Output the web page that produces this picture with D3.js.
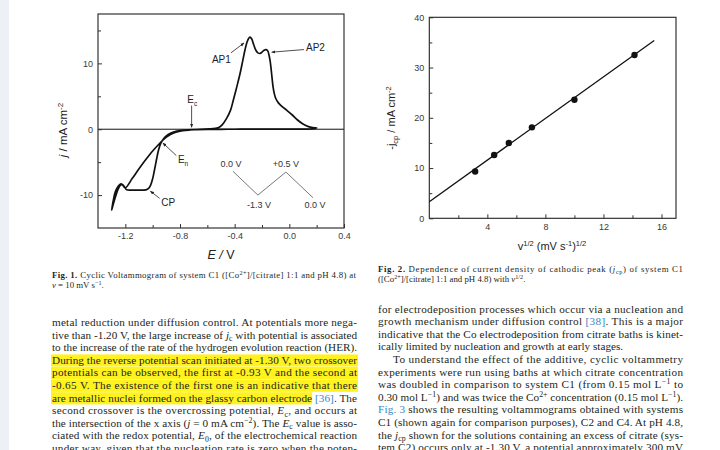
<!DOCTYPE html>
<html>
<head>
<meta charset="utf-8">
<script src="https://cdn.jsdelivr.net/npm/d3@7"></script>
<style>
  body { margin: 0; background: #fff; }
  svg { display: block; }
</style>
</head>
<body>
<svg id="page" width="720" height="450"></svg>
<script>
// Fig. 1 : cyclic voltammogram, in scan order (E / V , j / mA cm-2)
var cvE = [0.00, -0.10, -0.20, -0.30, -0.40, -0.50, -0.60, -0.68, -0.74, -0.79, -0.83, -0.87, -0.90, -0.92, -0.94,
  -0.955, -0.97, -0.985, -1.00, -1.015, -1.03, -1.05, -1.10, -1.15, -1.19, -1.205, -1.22, -1.235, -1.25, -1.265,
  -1.28, -1.29, -1.30,
  -1.295, -1.285, -1.275, -1.26, -1.245, -1.23, -1.215, -1.20, -1.15, -1.10, -1.05, -1.00, -0.96, -0.93, -0.90,
  -0.87, -0.83, -0.78, -0.72, -0.65, -0.58, -0.54, -0.51, -0.49, -0.46, -0.43, -0.41, -0.385, -0.36, -0.34,
  -0.325, -0.31, -0.30, -0.288, -0.275, -0.26, -0.245, -0.23, -0.215, -0.20, -0.185, -0.17, -0.158, -0.148,
  -0.14, -0.13, -0.12, -0.11, -0.10, -0.08, -0.05, -0.02, 0.02, 0.06, 0.10, 0.14, 0.17, 0.20,
  0.16, 0.10, 0.05, 0.00];
var cvJ = [0.02, 0.02, 0.02, 0.02, 0.0, -0.01, -0.03, -0.06, -0.1, -0.18, -0.32, -0.6, -1.0, -1.45, -2.1,
  -3.0, -4.4, -6.0, -7.5, -8.5, -9.0, -9.2, -9.25, -9.25, -9.2, -8.8, -8.4, -8.5, -9.0, -9.8,
  -10.8, -11.5, -12.3,
  -11.6, -10.5, -9.6, -8.9, -8.5, -8.3, -8.6, -8.9, -7.5, -6.0, -4.6, -3.3, -2.4, -1.75, -1.2,
  -0.8, -0.45, -0.22, -0.1, 0.0, 0.05, 0.15, 0.35, 0.7, 1.6, 2.9, 4.4, 6.4, 8.5, 10.5,
  12.0, 13.2, 13.7, 14.0, 13.7, 12.8, 12.0, 11.6, 11.5, 11.7, 12.0, 12.1, 11.9, 11.2,
  10.3, 8.5, 6.6, 5.4, 4.7, 4.0, 3.4, 2.9, 2.2, 1.4, 0.8, 0.4, 0.25, 0.2,
  0.05, 0.03, 0.02, 0.02];

var cvXTicks = [-1.2, -0.8, -0.4, 0.0, 0.4];
var cvXMinor = [-1.0, -0.6, -0.2, 0.2];
var cvYTicks = [-10, 0, 10];
var cvYMinor = [-5, 5, 15];

// labels with arrows, in data units of Fig. 1
var cvNotes = [
  {text: "AP1", sub: "", x: -0.497, y: 10.1, anchor: "middle", from: [-0.427, 11.6], to: [-0.332, 13.1]},
  {text: "AP2", sub: "", x: 0.122, y: 11.9, anchor: "start", from: [0.107, 12.1], to: [-0.129, 11.7]},
  {text: "E", sub: "c", x: -0.747, y: 4.0, anchor: "start", from: [-0.715, 3.6], to: [-0.715, 0.3]},
  {text: "E", sub: "n", x: -0.815, y: -5.2, anchor: "start", from: [-0.827, -4.0], to: [-0.925, -2.1]},
  {text: "CP", sub: "", x: -0.937, y: -11.6, anchor: "start", from: [-0.949, -10.5], to: [-1.017, -9.4]}
];

// potential program inset (vertices, in Fig. 1 data units) and its labels
var insetE = [-0.412, -0.230, -0.025, 0.173];
var insetJ = [-6.4, -10.0, -6.5, -10.4];
var insetLabels = ["0.0 V", "-1.3 V", "+0.5 V", "0.0 V"];
var insetLabelE = [-0.427, -0.222, -0.025, 0.187];
var insetLabelJ = [-5.8, -12.0, -5.8, -12.0];

// Fig. 2 : cathodic peak current vs square root of scan rate
var sqrtRate = [3.16, 4.47, 5.48, 7.07, 10.0, 14.14];
var jcp = [9.3, 12.6, 15.0, 18.1, 23.6, 32.5];
var fitX = [0, 15.5];
var fitY = [3.3, 35.4];
var fig2XTicks = [4, 8, 12, 16];
var fig2XMinor = [2, 6, 10, 14];
var fig2YTicks = [0, 10, 20, 30, 40];
var fig2YMinor = [5, 15, 25, 35];

// page text (markup: ^{} sup, _{} sub, *..* italic, #..# link, ~..~ bold)
var cap1 = ["~Fig. 1.~ Cyclic Voltammogram of system C1 ([Co^{2+}]/[citrate] 1:1 and pH 4.8) at",
  "*ν* = 10 mV s^{−1}."];
var cap2 = ["~Fig. 2.~ Dependence of current density of cathodic peak (*j*_{cp}) of system C1",
  "([Co^{2+}]/[citrate] 1:1 and pH 4.8) with *ν*^{1/2}."];
var leftLines = [
  "metal reduction under diffusion control. At potentials more nega-",
  "tive than -1.20 V, the large increase of *j*_{c} with potential is associated",
  "to the increase of the rate of the hydrogen evolution reaction (HER).",
  "During the reverse potential scan initiated at -1.30 V, two crossover",
  "potentials can be observed, the first at -0.93 V and the second at",
  "-0.65 V. The existence of the first one is an indicative that there",
  "are metallic nuclei formed on the glassy carbon electrode #[36]#. The",
  "second crossover is the overcrossing potential, *E*_{c}, and occurs at",
  "the intersection of the x axis (*j* = 0 mA cm^{−2}). The *E*_{c} value is asso-",
  "ciated with the redox potential, *E*_{0}, of the electrochemical reaction",
  "under way, given that the nucleation rate is zero when the poten-"
];
var highlighted = [3, 4, 5, 6];
var rightLines = [
  "for electrodeposition processes which occur via a nucleation and",
  "growth mechanism under diffusion control #[38]#. This is a major",
  "indicative that the Co electrodeposition from citrate baths is kinet-",
  "ically limited by nucleation and growth at early stages.",
  "To understand the effect of the additive, cyclic voltammetry",
  "experiments were run using baths at which citrate concentration",
  "was doubled in comparison to system C1 (from 0.15 mol L^{−1} to",
  "0.30 mol L^{−1}) and was twice the Co^{2+} concentration (0.15 mol L^{−1}).",
  "#Fig. 3# shows the resulting voltammograms obtained with systems",
  "C1 (shown again for comparison purposes), C2 and C4. At pH 4.8,",
  "the *j*_{cp} shown for the solutions containing an excess of citrate (sys-",
  "tem C2) occurs only at -1.30 V, a potential approximately 300 mV"
];
var rightIndent = [4];
var rightRagged = [3];

var svg = d3.select("#page");
var chartFont = "'Liberation Sans', Arial, sans-serif";
var textFont = "'Liberation Serif', 'Times New Roman', serif";

svg.append("rect").attr("x", 0).attr("y", 0).attr("width", 9).attr("height", 450).attr("fill", "#edf1f5");

// writes marked-up text into a <text> element
function richText(txt, str, fs) {
  var re = /(\^\{[^}]*\}|_\{[^}]*\}|\*[^*]*\*|#[^#]*#|~[^~]*~)/g;
  var shift = 0;
  str.split(re).forEach(function(part) {
    if (!part) return;
    var t = txt.append("tspan");
    var dy = 0, content = part;
    if (part.slice(0, 2) == "^{" || part.slice(0, 2) == "_{") {
      var up = part[0] == "^";
      content = part.slice(2, -1);
      var target = up ? -0.36 * fs : 0.22 * fs;
      dy = target - shift;
      shift = target;
      t.attr("font-size", fs * 0.7);
      if (part[0] == "_" && /j|E/.test(str)) t.attr("font-style", null);
    } else {
      dy = -shift;
      shift = 0;
      if (part[0] == "*" && part.length > 1) { content = part.slice(1, -1); t.attr("font-style", "italic"); }
      else if (part[0] == "#" && part.length > 1) { content = part.slice(1, -1); t.attr("fill", "#3a86c4"); }
      else if (part[0] == "~" && part.length > 1) { content = part.slice(1, -1); t.attr("font-weight", "bold"); }
    }
    if (dy) t.attr("dy", dy);
    t.text(content);
  });
  return txt;
}

function plain(str) {
  return str.replace(/[\^_]\{([^}]*)\}/g, "$1").replace(/[*#~]/g, "");
}

function writeLines(lines, x0, width, base, step, fs, opts) {
  opts = opts || {};
  var g = svg.append("g").attr("font-family", textFont).attr("font-size", fs).attr("fill", "#231f20");
  var nodes = [];
  lines.forEach(function(line, i) {
    var indent = (opts.indent || []).indexOf(i) >= 0 ? 15 : 0;
    var t = g.append("text").attr("x", x0 + indent).attr("y", base + i * step);
    richText(t, line, fs);
    var ragged = (opts.ragged || []).indexOf(i) >= 0;
    if (!ragged) t.attr("textLength", width - indent).attr("lengthAdjust", "spacing");
    nodes.push(t);
  });
  return {g: g, nodes: nodes};
}

// ---------------- Fig. 1 ----------------
var x1 = d3.scaleLinear().domain([-1.4, 0.4]).range([98, 344]);
var y1 = d3.scaleLinear().domain([-15, 17.5]).range([228, 14]);
var fig1 = svg.append("g").attr("font-family", chartFont);

fig1.append("line")
  .attr("x1", x1(-1.4)).attr("x2", x1(0.4))
  .attr("y1", y1(0)).attr("y2", y1(0))
  .attr("stroke", "#111").attr("stroke-width", 1);

var cvPts = cvE.map(function(e, i) { return [e, cvJ[i]]; });
fig1.append("path")
  .datum(cvPts)
  .attr("fill", "none")
  .attr("stroke", "#111")
  .attr("stroke-width", 1.7)
  .attr("stroke-linejoin", "round")
  .attr("d", d3.line().x(function(d) { return x1(d[0]); }).y(function(d) { return y1(d[1]); })
    .curve(d3.curveCatmullRom.alpha(0.5)));

function frameAxes(g, xs, ys, xt, xm, yt, ym, xfmt, yfmt) {
  var r = xs.range(), h = ys.range();
  g.append("rect").attr("x", r[0]).attr("y", h[1]).attr("width", r[1] - r[0]).attr("height", h[0] - h[1])
    .attr("fill", "none").attr("stroke", "#222").attr("stroke-width", 1.1);
  var xa = g.append("g").attr("transform", "translate(0," + h[0] + ")")
    .call(d3.axisBottom(xs).tickValues(xt).tickSizeInner(-4).tickSizeOuter(0).tickPadding(5).tickFormat(xfmt));
  g.append("g").attr("transform", "translate(0," + h[0] + ")")
    .call(d3.axisBottom(xs).tickValues(xm).tickSizeInner(-3).tickSizeOuter(0).tickFormat(""));
  var ya = g.append("g").attr("transform", "translate(" + r[0] + ",0)")
    .call(d3.axisLeft(ys).tickValues(yt).tickSizeInner(-4).tickSizeOuter(0).tickPadding(5).tickFormat(yfmt));
  g.append("g").attr("transform", "translate(" + r[0] + ",0)")
    .call(d3.axisLeft(ys).tickValues(ym).tickSizeInner(-3).tickSizeOuter(0).tickFormat(""));
  g.selectAll(".domain").remove();
  g.selectAll(".tick line").attr("stroke", "#333");
  g.selectAll(".tick text").attr("fill", "#3a3a3a").attr("font-size", 9).attr("font-family", chartFont);
}

frameAxes(fig1, x1, y1, cvXTicks, cvXMinor, cvYTicks, cvYMinor,
  function(d) { return d.toFixed(1); }, function(d) { return d; });

// arrows
var defs = svg.append("defs");
defs.append("marker").attr("id", "head").attr("viewBox", "0 0 10 10")
  .attr("refX", 9).attr("refY", 5).attr("markerWidth", 5).attr("markerHeight", 5)
  .attr("orient", "auto")
  .append("path").attr("d", "M0,1 L10,5 L0,9 Z").attr("fill", "#222");

cvNotes.forEach(function(n) {
  fig1.append("line")
    .attr("x1", x1(n.from[0])).attr("y1", y1(n.from[1]))
    .attr("x2", x1(n.to[0])).attr("y2", y1(n.to[1]))
    .attr("stroke", "#222").attr("stroke-width", 0.8)
    .attr("marker-end", "url(#head)");
  var t = fig1.append("text").attr("x", x1(n.x)).attr("y", y1(n.y))
    .attr("text-anchor", n.anchor).attr("font-size", 10).attr("fill", "#222");
  t.append("tspan").text(n.text);
  if (n.sub) t.append("tspan").attr("font-size", 6.5).attr("dy", 3).text(n.sub);
});

// inset: potential program
fig1.append("path")
  .datum(insetE.map(function(e, i) { return [e, insetJ[i]]; }))
  .attr("fill", "none").attr("stroke", "#555").attr("stroke-width", 0.8)
  .attr("d", d3.line().x(function(d) { return x1(d[0]); }).y(function(d) { return y1(d[1]); }));
fig1.selectAll("text.inset")
  .data(insetLabels)
  .enter().append("text")
  .attr("class", "inset")
  .attr("x", function(d, i) { return x1(insetLabelE[i]); })
  .attr("y", function(d, i) { return y1(insetLabelJ[i]); })
  .attr("text-anchor", "middle")
  .attr("font-size", 9)
  .attr("fill", "#333")
  .text(function(d) { return d; });

// axis titles
var t1y = fig1.append("text").attr("transform", "translate(67,130) rotate(-90)")
  .attr("text-anchor", "middle").attr("font-size", 11.5).attr("fill", "#222");
t1y.append("tspan").attr("font-style", "italic").text("j");
t1y.append("tspan").text(" / mA cm");
t1y.append("tspan").attr("font-size", 8).attr("dy", -4).text("-2");

var t1x = fig1.append("text").attr("x", 221).attr("y", 259)
  .attr("text-anchor", "middle").attr("font-size", 12.5).attr("fill", "#222");
t1x.append("tspan").attr("font-style", "italic").text("E / ");
t1x.append("tspan").text("V");

// ---------------- Fig. 2 ----------------
var x2 = d3.scaleLinear().domain([0, 17]).range([429.3, 676]);
var y2 = d3.scaleLinear().domain([0, 40]).range([218.3, 17.3]);
var fig2 = svg.append("g").attr("font-family", chartFont);

frameAxes(fig2, x2, y2, fig2XTicks, fig2XMinor, fig2YTicks, fig2YMinor,
  function(d) { return d; }, function(d) { return d; });

fig2.append("path")
  .datum(fitX.map(function(v, i) { return [v, fitY[i]]; }))
  .attr("fill", "none").attr("stroke", "#111").attr("stroke-width", 1.3)
  .attr("d", d3.line().x(function(d) { return x2(d[0]); }).y(function(d) { return y2(d[1]); }));

fig2.selectAll("circle.pt")
  .data(sqrtRate)
  .enter().append("circle")
  .attr("class", "pt")
  .attr("cx", function(d) { return x2(d); })
  .attr("cy", function(d, i) { return y2(jcp[i]); })
  .attr("r", 3.2)
  .attr("fill", "#111");

var t2y = fig2.append("text").attr("transform", "translate(395,118) rotate(-90)")
  .attr("text-anchor", "middle").attr("font-size", 11).attr("fill", "#222");
t2y.append("tspan").text("-j");
t2y.append("tspan").attr("font-size", 7.5).attr("dy", 3).text("cp");
t2y.append("tspan").attr("dy", -3).text(" / mA cm");
t2y.append("tspan").attr("font-size", 7.5).attr("dy", -4).text("-2");

var t2x = fig2.append("text").attr("x", 552).attr("y", 250)
  .attr("text-anchor", "middle").attr("font-size", 11).attr("fill", "#222");
t2x.append("tspan").text("v");
t2x.append("tspan").attr("font-size", 7.5).attr("dy", -4).text("1/2");
t2x.append("tspan").attr("dy", 4).text(" (mV s");
t2x.append("tspan").attr("font-size", 7.5).attr("dy", -4).text("-1");
t2x.append("tspan").attr("dy", 4).text(")");
t2x.append("tspan").attr("font-size", 7.5).attr("dy", -4).text("1/2");

// ---------------- captions and body text ----------------
writeLines(cap1, 52, 304, 278, 10, 8.8, {ragged: [1]});
writeLines(cap2, 378, 305, 272, 10, 8.8, {ragged: [1]});

// yellow highlight behind the left column sentence
var leftBase = 326, step = 12.6;
var hl = svg.append("g");
var left = writeLines(leftLines, 52, 305, leftBase, step, 11.2);
highlighted.forEach(function(i) {
  var node = left.nodes[i].node();
  var p = plain(leftLines[i]);
  var cut = p.indexOf("[");
  var xEnd = cut > 0 ? node.getStartPositionOfChar(cut - 1).x : 52 + 305 + 1;
  hl.append("rect")
    .attr("x", 51).attr("y", leftBase + i * step - 9.4)
    .attr("width", xEnd - 51).attr("height", 12.2)
    .attr("fill", "#fff21f");
});

writeLines(rightLines, 378, 305, 312.5, step, 11.2, {indent: rightIndent, ragged: rightRagged});
</script>
</body>
</html>
